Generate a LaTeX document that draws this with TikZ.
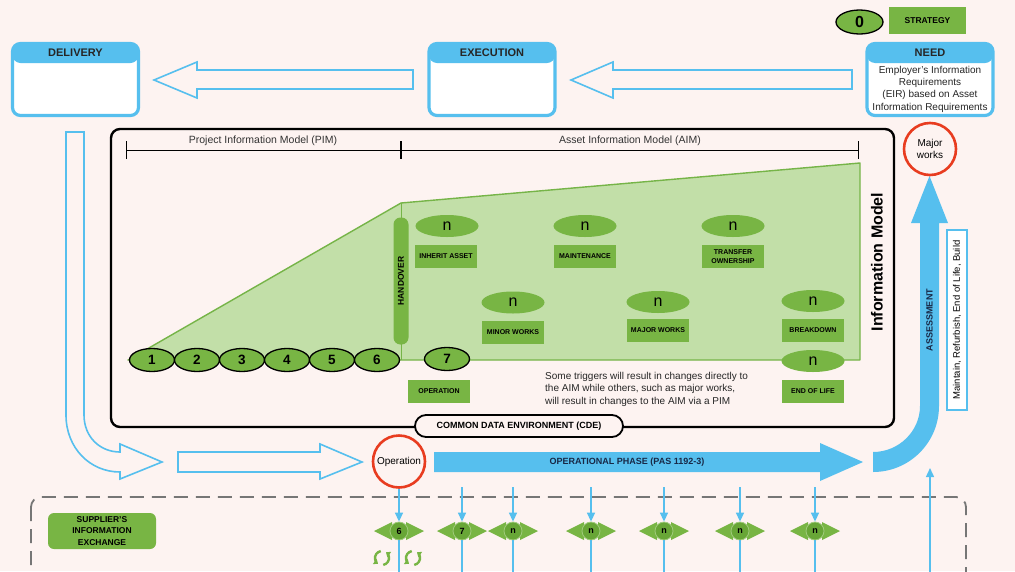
\documentclass[tikz,border=0pt]{standalone}
\usepackage{fontspec}
\setmainfont{Liberation Sans}
\usetikzlibrary{shapes.geometric, arrows.meta}

\definecolor{bgpink}{RGB}{253,243,241}
\definecolor{skyblue}{RGB}{86,191,238}
\definecolor{leafgreen}{RGB}{120,181,68}
\definecolor{hubgreen}{RGB}{104,166,54}
\definecolor{palegreen}{RGB}{194,223,168}
\definecolor{edgegreen}{RGB}{118,180,72}
\definecolor{opred}{RGB}{232,60,32}
\definecolor{dashgrey}{RGB}{118,118,118}
\definecolor{navytext}{RGB}{24,40,70}

\tikzset{
	stagebox/.style = {draw = skyblue, line width = 3.2pt, fill = white, rounded corners = 8pt, minimum width = 126pt, minimum height = 72pt, inner sep = 0pt,
		path picture = {\fill [skyblue] (path picture bounding box.north west) rectangle ([yshift = -19.5pt] path picture bounding box.north east);}},
	stagetitle/.style = {inner sep = 0pt, font = \fontsize{11}{11}\selectfont\bfseries, text = black!85},
	needtext/.style = {inner sep = 0pt, align = center, font = \fontsize{10}{12.3}\selectfont, text = black!85},
	hollow/.style = {draw = skyblue, line width = 1.6pt, line join = miter},
	dimline/.style = {line width = 1pt, {Bar[width = 18pt]}-{Bar[width = 18pt]}},
	dimlabel/.style = {inner sep = 0pt, font = \fontsize{10.5}{10.5}\selectfont, text = black!80},
	phase/.style = {ellipse, draw = black, line width = 1.3pt, fill = leafgreen, minimum width = 45pt, minimum height = 23pt, inner sep = 0pt, font = \fontsize{13.5}{13.5}\selectfont\bfseries},
	trigger/.style = {ellipse, fill = leafgreen, minimum width = 63pt, minimum height = 22pt, inner sep = 0pt, font = \fontsize{16}{16}\selectfont},
	tag/.style = {fill = leafgreen, minimum width = 62pt, minimum height = 23pt, inner sep = 0pt, align = center, font = \fontsize{7}{8.5}\selectfont\bfseries},
	handover/.style = {fill = leafgreen, rotate = 90, rounded corners = 7pt, minimum width = 127pt, minimum height = 15pt, inner sep = 0pt, font = \fontsize{8.5}{8.5}\selectfont\bfseries},
	event/.style = {circle, draw = opred, line width = 2.6pt, fill = bgpink, minimum size = 52pt, inner sep = 0pt, align = center, font = \fontsize{10}{12}\selectfont},
	feed/.style = {draw = skyblue, line width = 1.4pt},
	feedin/.style = {feed, -{Triangle[length = 9pt, width = 8pt]}},
	hub/.style = {circle, fill = hubgreen, draw = leafgreen!70!white, line width = 0.8pt, minimum size = 18pt, inner sep = 0pt, font = \fontsize{9}{9}\selectfont\bfseries},
	flanks/.pic = {
		\fill [leafgreen] (-7pt, 9pt) -- (-25pt, 0pt) -- (-7pt, -9pt) -- cycle;
		\fill [leafgreen] (7pt, 9pt) -- (25pt, 0pt) -- (7pt, -9pt) -- cycle;
	},
	cycleicon/.pic = {
		\draw [leafgreen, line width = 2.4pt, -{Triangle[length = 4pt, width = 6.5pt]}] (100:7pt) arc (100:235:7pt);
		\draw [leafgreen, line width = 2.4pt, -{Triangle[length = 4pt, width = 6.5pt]}] (-80:7pt) arc (-80:55:7pt);
	},
}

\begin{document}
\begin{tikzpicture}[x = 1pt, y = -1pt]
	\path [use as bounding box] (0, 0) rectangle (1015, 571);
	\clip (0, 0) rectangle (1015, 571);
	\fill [bgpink] (0, 0) rectangle (1015, 571);

	\draw [dashgrey, line width = 1.8pt, dash pattern = on 14pt off 8pt, rounded corners = 10pt] (31, 497) rectangle (966, 620);
	\draw [line width = 2.4pt, rounded corners = 9pt] (111, 129) rectangle (894, 427);

	\coordinate (pimL) at (126, 150);
	\coordinate (pimR) at (401, 150);
	\coordinate (aimR) at (859, 150);
	\draw [dimline] (pimL) -- (pimR);
	\draw [dimline] (pimR) -- (aimR);
	\node [dimlabel] (pimlabel) at (263, 141) {Project Information Model (PIM)};
	\node [dimlabel] (aimlabel) at (630, 141) {Asset Information Model (AIM)};

	\coordinate (g1) at (128, 360);
	\coordinate (g2) at (401, 203);
	\coordinate (g3) at (860, 163);
	\coordinate (g4) at (860, 360);
	\coordinate (g5) at (401, 360);
	\draw [fill = palegreen, draw = edgegreen, line width = 1.4pt, line join = round] (g1) -- (g2) -- (g3) -- (g4) -- cycle;
	\draw [edgegreen, line width = 1pt] (g2) -- (g5);

	\node [handover] (handover) at (401, 281) {HANDOVER};

	\node [phase] (p1) at (152, 360) {1};
	\node [phase] (p2) at (197, 360) {2};
	\node [phase] (p3) at (242, 360) {3};
	\node [phase] (p4) at (287, 360) {4};
	\node [phase] (p5) at (332, 360) {5};
	\node [phase] (p6) at (377, 360) {6};
	\node [phase] (p7) at (447, 359) {7};
	\node [tag] (operation) at (439, 391) {OPERATION};

	\node [trigger] (n1) at (447, 226) {n};
	\node [tag] (inherit) at (446, 256.5) {INHERIT ASSET};
	\node [trigger] (n2) at (585, 226) {n};
	\node [tag] (maintenance) at (585, 256.5) {MAINTENANCE};
	\node [trigger] (n3) at (733, 226) {n};
	\node [tag] (transfer) at (733, 256.5) {TRANSFER\\OWNERSHIP};
	\node [trigger] (n4) at (513, 302.5) {n};
	\node [tag] (minor) at (513, 332) {MINOR WORKS};
	\node [trigger] (n5) at (658, 302) {n};
	\node [tag] (major) at (658, 330) {MAJOR WORKS};
	\node [trigger] (n6) at (813, 301) {n};
	\node [tag] (breakdown) at (813, 330) {BREAKDOWN};
	\node [trigger] (n7) at (813, 361) {n};
	\node [tag] (endoflife) at (813, 391.5) {END OF LIFE};

	\node [anchor = north west, inner sep = 0pt, align = left, font = \fontsize{10}{12.5}\selectfont, text = black!85] (note) at (545, 372)
		{Some triggers will result in changes directly to\\the AIM while others, such as major works,\\will result in changes to the AIM via a PIM};

	\node [rotate = 90, inner sep = 0pt, font = \fontsize{16}{16}\selectfont\bfseries] (infomodel) at (877, 262) {Information Model};

	\node [draw = black, line width = 1.8pt, fill = bgpink, rounded corners = 11pt, minimum width = 208pt, minimum height = 22pt, inner sep = 0pt,
		font = \fontsize{9}{9}\selectfont\bfseries] (cde) at (519, 426) {COMMON DATA ENVIRONMENT (CDE)};

	\node [ellipse, draw = black, line width = 1.3pt, fill = leafgreen, minimum width = 47pt, minimum height = 24pt, inner sep = 0pt,
		font = \fontsize{16}{16}\selectfont\bfseries] (zero) at (859.5, 22) {0};
	\node [fill = leafgreen, minimum width = 77pt, minimum height = 27pt, inner sep = 0pt, font = \fontsize{8.5}{8.5}\selectfont\bfseries] (strategy) at (927.5, 20.5) {STRATEGY};

	\node [stagebox] (delivery) at (75.5, 79.5) {};
	\node [stagetitle] (deliverytitle) at (75.5, 53) {DELIVERY};
	\node [stagebox] (execution) at (492, 79.5) {};
	\node [stagetitle] (executiontitle) at (492, 53) {EXECUTION};
	\node [stagebox] (need) at (930, 79.5) {};
	\node [stagetitle] (needtitle) at (930, 52.5) {NEED};
	\node [needtext] (eir) at (930, 89) {Employer's Information\\Requirements\\(EIR) based on Asset\\Information Requirements};

	\draw [hollow] (154, 80) -- (197, 62) -- (197, 70) -- (413, 70) -- (413, 89) -- (197, 89) -- (197, 98) -- cycle;
	\draw [hollow] (571, 80) -- (613, 62) -- (613, 70) -- (852, 70) -- (852, 89) -- (613, 89) -- (613, 98) -- cycle;
	\draw [hollow] (66, 132) -- (66, 415) .. controls (66, 448) and (90, 472) .. (120, 472) -- (120, 479) -- (162, 462) -- (120, 444) -- (120, 452)
		.. controls (100, 452) and (84, 437) .. (84, 415) -- (84, 132) -- cycle;
	\draw [hollow] (178, 452) -- (320, 452) -- (320, 444) -- (362, 462) -- (320, 479) -- (320, 472) -- (178, 472) -- cycle;

	\fill [skyblue] (434, 452) -- (820, 452) -- (820, 443) -- (863, 462) -- (820, 481) -- (820, 472) -- (434, 472) -- cycle;
	\node [inner sep = 0pt, font = \fontsize{9}{9}\selectfont\bfseries, text = navytext] (opphase) at (627, 462) {OPERATIONAL PHASE (PAS 1192-3)};

	\fill [skyblue] (873, 452) -- (873, 472) .. controls (909.5, 472) and (939, 442.5) .. (939, 406) -- (939, 223) -- (948, 223) -- (929.5, 176)
		-- (911, 223) -- (920, 223) -- (920, 406) .. controls (920, 431) and (899, 452) .. (873, 452) -- cycle;
	\node [rotate = 90, inner sep = 0pt, font = \fontsize{9}{9}\selectfont\bfseries, text = navytext] (assess) at (929.5, 320) {ASSESSMENT};
	\node [rotate = 90, draw = skyblue, line width = 1.3pt, fill = white, minimum width = 180pt, minimum height = 20pt, inner sep = 0pt,
		font = \fontsize{9.5}{9.5}\selectfont] (lifecycle) at (957, 320) {Maintain, Refurbish, End of Life, Build};

	\node [event] (majorevent) at (930, 149) {Major\\works};
	\node [event] (opevent) at (399, 461.5) {Operation};

	\coordinate (up0) at (930, 575);
	\coordinate (up1) at (930, 468);
	\draw [feedin] (up0) -- (up1);

	\pic at (399, 531) {flanks};
	\pic at (462, 531) {flanks};
	\pic at (513, 531) {flanks};
	\pic at (591, 531) {flanks};
	\pic at (664, 531) {flanks};
	\pic at (740, 531) {flanks};
	\pic at (815, 531) {flanks};

	\node [hub] (h6) at (399, 531) {6};
	\node [hub] (h7) at (462, 531) {7};
	\node [hub] (hn1) at (513, 531) {n};
	\node [hub] (hn2) at (591, 531) {n};
	\node [hub] (hn3) at (664, 531) {n};
	\node [hub] (hn4) at (740, 531) {n};
	\node [hub] (hn5) at (815, 531) {n};

	\coordinate (t7) at (462, 487);
	\coordinate (tn1) at (513, 487);
	\coordinate (tn2) at (591, 487);
	\coordinate (tn3) at (664, 487);
	\coordinate (tn4) at (740, 487);
	\coordinate (tn5) at (815, 487);
	\coordinate (b6) at (399, 575);
	\coordinate (b7) at (462, 575);
	\coordinate (bn1) at (513, 575);
	\coordinate (bn2) at (591, 575);
	\coordinate (bn3) at (664, 575);
	\coordinate (bn4) at (740, 575);
	\coordinate (bn5) at (815, 575);

	\draw [feedin] (opevent) -- (h6);
	\draw [feedin] (t7) -- (h7);
	\draw [feedin] (tn1) -- (hn1);
	\draw [feedin] (tn2) -- (hn2);
	\draw [feedin] (tn3) -- (hn3);
	\draw [feedin] (tn4) -- (hn4);
	\draw [feedin] (tn5) -- (hn5);
	\draw [feed] (h6) -- (b6);
	\draw [feed] (h7) -- (b7);
	\draw [feed] (hn1) -- (bn1);
	\draw [feed] (hn2) -- (bn2);
	\draw [feed] (hn3) -- (bn3);
	\draw [feed] (hn4) -- (bn4);
	\draw [feed] (hn5) -- (bn5);

	\pic at (382, 558) {cycleicon};
	\pic at (413, 558) {cycleicon};

	\node [fill = leafgreen, rounded corners = 6pt, minimum width = 108pt, minimum height = 36pt, inner sep = 0pt, align = center,
		font = \fontsize{8.5}{11.5}\selectfont\bfseries] (supplier) at (102, 531) {SUPPLIER'S\\INFORMATION\\EXCHANGE};
\end{tikzpicture}
\end{document}
